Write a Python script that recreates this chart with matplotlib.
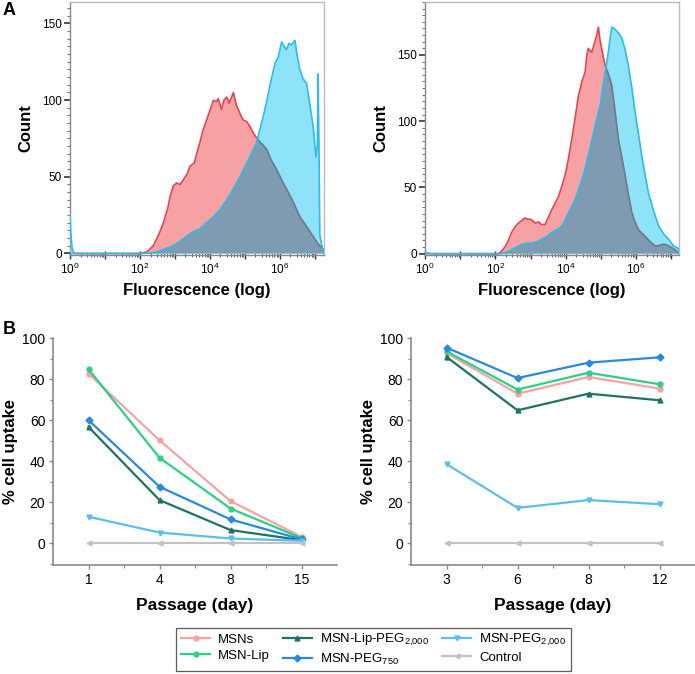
import matplotlib
matplotlib.use("Agg")
import matplotlib.pyplot as plt
import numpy as np
from matplotlib.ticker import FixedLocator, FuncFormatter, MultipleLocator, LogLocator

plt.rcParams["font.family"] = ["Liberation Sans", "DejaVu Sans"]

# ---- panel A: flow histograms (x given as log10 of fluorescence) ----
a1_red_log = [0, 2.0, 2.2, 2.38, 2.55, 2.67, 2.8, 2.86, 2.95, 3.05, 3.15, 3.24, 3.35, 3.43, 3.55, 3.62,
              3.72, 3.81, 3.95, 4.1, 4.18, 4.24, 4.33, 4.4, 4.48, 4.55, 4.67, 4.75, 4.81, 4.88, 4.95,
              5.05, 5.14, 5.25, 5.38, 5.5, 5.62, 5.75, 5.9, 6.05, 6.19, 6.35, 6.57, 6.75, 6.95, 7.1, 7.24, 7.26]
a1_red_cnt = [0, 0, 1, 5, 13, 20, 30, 37, 44, 46, 45, 48, 52, 57, 59, 65,
              73, 81, 90, 100, 99, 101, 94, 100, 102, 98, 105, 97, 94, 90, 87,
              86, 83, 78, 74, 71, 68, 61, 55, 48, 42, 35, 24, 18, 11, 6, 3, 0]

a1_blue_log = [0, 0.02, 0.06, 0.12, 2.0, 2.3, 2.48, 2.7, 2.95, 3.2, 3.43, 3.6, 3.71, 3.9, 4.1, 4.3, 4.48,
               4.62, 4.76, 4.9, 5.05, 5.2, 5.33, 5.42, 5.52, 5.62, 5.71, 5.78, 5.86, 5.95, 6.05, 6.12, 6.19,
               6.26, 6.33, 6.43, 6.5, 6.57, 6.66, 6.76, 6.85, 6.95, 7.03, 7.07, 7.09, 7.12, 7.14, 7.2, 7.26]
a1_blue_cnt = [26, 14, 3, 0, 0, 0.3, 1, 3, 5, 9, 13, 15, 16, 20, 24, 29, 35,
               40, 46, 52, 59, 66, 72, 80, 89, 99, 109, 116, 124, 128, 138, 135, 133,
               137, 136, 139, 128, 120, 114, 111, 98, 83, 63, 70, 117, 60, 12, 5, 0]

a2_red_log = [0, 2.09, 2.18, 2.27, 2.37, 2.46, 2.55, 2.65, 2.75, 2.84, 2.92, 2.99, 3.06, 3.13, 3.22, 3.31,
              3.41, 3.5, 3.6, 3.7, 3.79, 3.88, 3.98, 4.08, 4.17, 4.27, 4.36, 4.46, 4.55, 4.6, 4.64, 4.74,
              4.83, 4.88, 4.93, 4.97, 5.02, 5.12, 5.21, 5.31, 5.4, 5.5, 5.6, 5.69, 5.78, 5.88, 5.97, 6.07,
              6.26, 6.4, 6.54, 6.64, 6.73, 6.83, 6.92, 7.11, 7.2]
a2_red_cnt = [0, 0, 2, 5, 10, 16, 20, 23, 25, 27, 26, 26, 25, 23, 24, 22,
              22, 27, 33, 38, 43, 50, 59, 72, 86, 103, 119, 130, 137, 150, 155, 152,
              160, 165, 171, 162, 155, 142, 136, 127, 108, 86, 72, 59, 45, 31, 24, 18,
              13, 9, 6, 6, 7, 7, 6, 3, 0]

a2_blue_log = [0, 0.1, 0.2, 2.18, 2.3, 2.46, 2.6, 2.75, 2.9, 3.03, 3.18, 3.32, 3.46, 3.6, 3.75, 3.89, 3.98,
               4.08, 4.17, 4.27, 4.36, 4.46, 4.55, 4.64, 4.74, 4.83, 4.9, 4.98, 5.05, 5.12, 5.17, 5.21,
               5.26, 5.31, 5.38, 5.45, 5.52, 5.59, 5.68, 5.78, 5.88, 5.97, 6.07, 6.16, 6.26, 6.35, 6.5,
               6.64, 6.78, 6.92, 7.06, 7.13, 7.2, 7.22]
a2_blue_cnt = [1, 0.5, 0, 0, 1, 3, 5, 7, 8, 8, 9, 11, 13, 16, 18, 21, 25,
               31, 36, 41, 48, 56, 64, 74, 85, 96, 104, 112, 125, 137, 145, 152,
               162, 171, 170, 168, 166, 163, 155, 142, 125, 107, 90, 74, 59, 46, 32,
               21, 15, 11, 6, 5, 4, 0]

# ---- panel B: % cell uptake ----
days_left = ["1", "4", "8", "15"]
days_right = ["3", "6", "8", "12"]
series_names = ["MSNs", "MSN-Lip", r"MSN-Lip-PEG$_{\mathregular{2{,}000}}$",
                r"MSN-PEG$_{\mathregular{750}}$", r"MSN-PEG$_{\mathregular{2{,}000}}$", "Control"]
uptake_left = [
    [82.7, 50.2, 20.6, 3.2],
    [84.8, 41.7, 17.0, 2.6],
    [56.7, 21.1, 6.5, 1.6],
    [60.0, 27.6, 11.7, 2.0],
    [13.0, 5.3, 2.4, 1.3],
    [0.0, 0.0, 0.0, 0.0],
]
uptake_right = [
    [92.7, 72.9, 81.0, 75.4],
    [93.5, 74.9, 83.1, 77.5],
    [90.8, 64.8, 72.9, 69.7],
    [95.3, 80.5, 88.0, 90.6],
    [38.6, 17.3, 21.1, 19.1],
    [0.0, 0.0, 0.0, 0.0],
]
line_colors = ["#f4a3a6", "#2fcf85", "#1f7264", "#2a88e0", "#5cbdf2", "#c2c2c2"]
markers = ["o", "o", "^", "D", "v", "<"]

RED_LINE = "#e8444e"
RED_FILL = "#f6a2a5"
BLUE_LINE = "#2cbde9"
BLUE_FILL = "#8fe3f8"
OVERLAP = "#7e9bb1"
OVERLAP_LINE = "#6f788c"


def hist_panel(ax, red_log, red_cnt, blue_log, blue_cnt, ymax, xmax):
    xr = 10 ** np.asarray(red_log)
    xb = 10 ** np.asarray(blue_log)
    ax.fill_between(xr, red_cnt, color=RED_FILL, lw=0, zorder=1)
    ax.plot(xr, red_cnt, color=RED_LINE, lw=1.2, zorder=2)
    pb = ax.fill_between(xb, blue_cnt, color=BLUE_FILL, lw=0, zorder=3)
    clip = pb.get_paths()[0]
    # overlap of both histograms drawn darker
    ov = ax.fill_between(xr, red_cnt, color=OVERLAP, lw=0, zorder=4)
    ov.set_clip_path(clip, ax.transData)
    ol, = ax.plot(xr, red_cnt, color=OVERLAP_LINE, lw=1.2, zorder=5)
    ol.set_clip_path(clip, ax.transData)
    ax.plot(xb, blue_cnt, color=BLUE_LINE, lw=1.2, zorder=6)

    ax.set_xscale("log")
    ax.set_xlim(1, 10 ** xmax)
    ax.set_ylim(-1, ymax)
    ax.xaxis.set_major_locator(FixedLocator([10.0 ** k for k in range(0, 8)]))
    ax.xaxis.set_major_formatter(FuncFormatter(
        lambda v, p: r"$\mathregular{10^{%d}}$" % round(np.log10(v)) if round(np.log10(v)) % 2 == 0 else ""))
    ax.xaxis.set_minor_locator(LogLocator(base=10, subs=np.arange(2, 10), numticks=20))
    ax.yaxis.set_major_locator(MultipleLocator(50))
    ax.yaxis.set_minor_locator(MultipleLocator(5))
    for s in ax.spines.values():
        s.set_color("#bcbcbc")
        s.set_linewidth(1.0)
    ax.spines["left"].set_color("#888888")
    ax.spines["bottom"].set_color("#888888")
    ax.tick_params(axis="x", which="major", direction="inout", length=6, width=1.0, color="#333333",
                   labelsize=8.5, pad=2)
    ax.tick_params(axis="x", which="minor", direction="inout", length=3, width=0.8, color="#666666")
    ax.tick_params(axis="y", which="major", direction="out", length=4, width=1.2, color="#333333",
                   labelsize=8.5, pad=2)
    ax.tick_params(axis="y", which="minor", direction="out", length=2, width=0.8, color="#777777")
    ax.set_xlabel("Fluorescence (log)", fontsize=12, fontweight="bold", labelpad=4)
    ax.set_ylabel("Count", fontsize=12, fontweight="bold", labelpad=6)


def uptake_panel(ax, days, data):
    x = np.arange(len(days))
    handles = []
    for vals, c, m, name in zip(data, line_colors, markers, series_names):
        h, = ax.plot(x, vals, color=c, marker=m, markersize=3.5, lw=1.6, label=name)
        handles.append(h)
    ax.set_xlim(-0.5, len(days) - 0.5)
    ax.set_ylim(-10.5, 100)
    ax.set_xticks(x)
    ax.set_xticklabels(days)
    ax.xaxis.set_minor_locator(FixedLocator(x[:-1] + 0.5))
    ax.yaxis.set_major_locator(MultipleLocator(20))
    ax.yaxis.set_minor_locator(MultipleLocator(10))
    ax.spines["top"].set_visible(False)
    ax.spines["right"].set_visible(False)
    ax.spines["left"].set_color("#8a8a8a")
    ax.spines["bottom"].set_color("#8a8a8a")
    ax.spines["left"].set_linewidth(1.2)
    ax.spines["bottom"].set_linewidth(1.2)
    ax.tick_params(which="major", direction="out", length=3, width=1.0, color="#8a8a8a", labelsize=10,
                   pad=2.5)
    ax.tick_params(which="minor", direction="out", length=2, width=0.8, color="#8a8a8a")
    ax.set_xlabel("Passage (day)", fontsize=12.5, fontweight="bold", labelpad=8)
    ax.set_ylabel("% cell uptake", fontsize=12, fontweight="bold", labelpad=3)
    return handles


fig = plt.figure(figsize=(6.95, 6.74), dpi=100)
W, H = 695.0, 674.0


def box(x0, y0, x1, y1):
    return [x0 / W, 1 - y1 / H, (x1 - x0) / W, (y1 - y0) / H]


ax1 = fig.add_axes(box(70, 2, 324, 255))
ax2 = fig.add_axes(box(425, 2, 679, 255))
ax3 = fig.add_axes(box(53, 338, 337, 565))
ax4 = fig.add_axes(box(411, 338, 695, 565))

hist_panel(ax1, a1_red_log, a1_red_cnt, a1_blue_log, a1_blue_cnt, 164, 7.26)
hist_panel(ax2, a2_red_log, a2_red_cnt, a2_blue_log, a2_blue_cnt, 190, 7.22)
handles = uptake_panel(ax3, days_left, uptake_left)
uptake_panel(ax4, days_right, uptake_right)

fig.text(3 / W, 1 - 2 / H, "A", fontsize=13, fontweight="bold", va="top", ha="left")
fig.text(3 / W, 1 - 321 / H, "B", fontsize=13, fontweight="bold", va="top", ha="left")

leg = fig.legend(handles=handles, loc="center", bbox_to_anchor=(373.5 / W, 1 - 649.5 / H), ncol=3,
                 fontsize=9.5, frameon=True, fancybox=False, edgecolor="#333333",
                 handlelength=2.2, columnspacing=1.0, handletextpad=0.6, labelspacing=0.25,
                 borderpad=0.35)
leg.get_frame().set_linewidth(0.9)

fig.savefig("out.png", dpi=100)
